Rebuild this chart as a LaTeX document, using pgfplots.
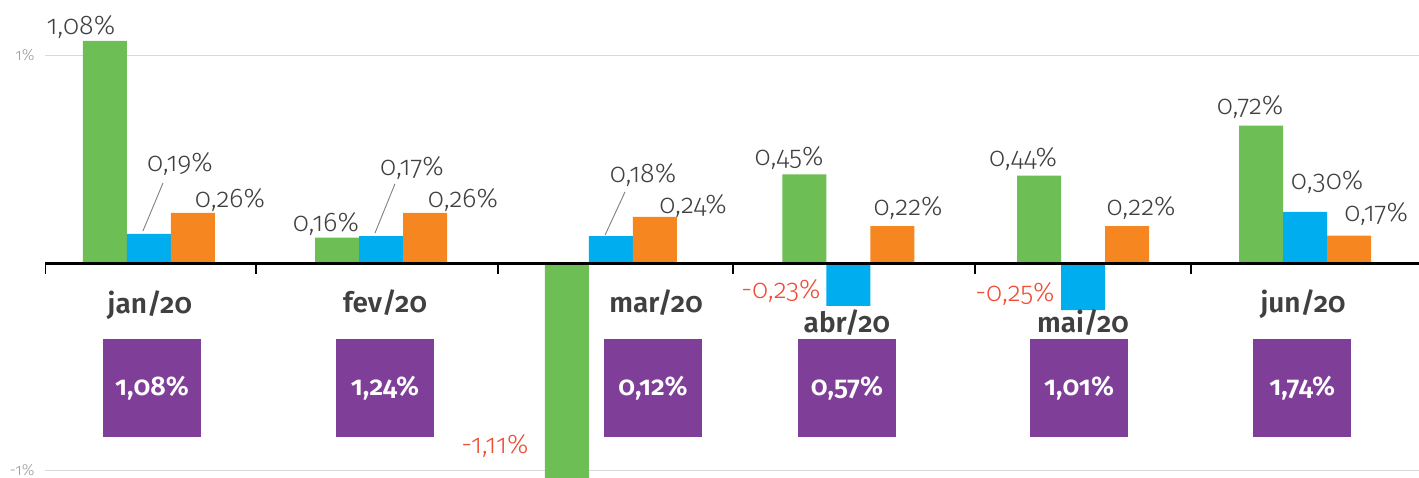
\documentclass[border=0pt]{standalone}
\usepackage{pgfplots}
\pgfplotsset{compat=1.18}
\usepackage{fontspec}
\setmainfont{Fira Sans}[Numbers=OldStyle]
\newfontfamily\lightfont{Fira Sans Light}[Numbers=OldStyle]
\newfontfamily\semifont{Fira Sans SemiBold}[Numbers=OldStyle]
\definecolor{cgreen}{HTML}{6DBE54}
\definecolor{cblue}{HTML}{00AEEF}
\definecolor{corange}{HTML}{F68620}
\definecolor{cpurple}{HTML}{7F3F98}
\definecolor{cred}{HTML}{F04E37}
\definecolor{ctext}{HTML}{404040}
\definecolor{tickgrey}{HTML}{999999}
\definecolor{gridgrey}{HTML}{D9D9D9}
\newcommand\vl{\lightfont\fontsize{27}{30}\selectfont}
\newcommand\cl{\semifont\fontsize{28}{32}\selectfont}
\newcommand\bl{\semifont\fontsize{27}{30}\selectfont}
\begin{document}
\begin{tikzpicture}
\begin{axis}[
  x=231.4pt, y=207.5pt,
  xmin=-0.449, xmax=5.488, ymin=-1.0313, ymax=1.2675,
  axis line style={draw=none},
  xtick=\empty,
  ytick={-1,1}, yticklabels={-1\%,1\%},
  ymajorgrids, grid style={color=gridgrey, line width=1.3pt},
  major tick length=0pt,
  yticklabel style={font=\lightfont\fontsize{16}{18}\selectfont, text=tickgrey, xshift=-7pt},
  clip=true,
]
% green series
\addplot[ybar, bar width=44pt, bar shift=-44pt, fill=cgreen, draw=none] coordinates {
  (0,1.070) (1.003,0.122) (1.996,-1.11) (3.022,0.427) (4.037,0.421) (4.996,0.662)};
% blue series
\addplot[ybar, bar width=44pt, bar shift=0pt, fill=cblue, draw=none] coordinates {
  (0,0.140) (1.003,0.130) (1.996,0.130) (3.022,-0.206) (4.037,-0.227) (4.996,0.247)};
% orange series
\addplot[ybar, bar width=44pt, bar shift=44pt, fill=corange, draw=none] coordinates {
  (0,0.242) (1.003,0.242) (1.996,0.223) (3.022,0.178) (4.037,0.178) (4.996,0.132)};
% zero line and group ticks
\addplot[black, line width=3pt, mark=none] coordinates {(-0.449,0) (5.488,0)};
\addplot[black, line width=2.5pt, ycomb, mark=none] coordinates {
  (-0.449,-0.055) (0.462,-0.055) (1.508,-0.055) (2.524,-0.055) (3.570,-0.055) (4.503,-0.055)};
% leader lines
\addplot[gray, line width=0.9pt, mark=none] coordinates {(-0.026,0.154) (0.061,0.386)};
\addplot[gray, line width=0.9pt, mark=none] coordinates {(0.977,0.145) (1.063,0.381)};
\addplot[gray, line width=0.9pt, mark=none] coordinates {(1.971,0.135) (2.057,0.342)};
% value labels
\begin{scope}[every node/.style={anchor=base, inner sep=0pt, font=\vl, text=ctext}]
\node at (axis cs:-0.294,1.099) {1,08\%};
\node at (axis cs:0.134,0.439) {0,19\%};
\node at (axis cs:0.350,0.270) {0,26\%};
\node at (axis cs:0.765,0.154) {0,16\%};
\node at (axis cs:1.137,0.424) {0,17\%};
\node at (axis cs:1.357,0.270) {0,26\%};
\node[text=cred] at (axis cs:1.495,-0.916) {-1,11\%};
\node at (axis cs:2.135,0.386) {0,18\%};
\node at (axis cs:2.351,0.241) {0,24\%};
\node at (axis cs:2.766,0.472) {0,45\%};
\node[text=cred] at (axis cs:2.731,-0.169) {-0,23\%};
\node at (axis cs:3.280,0.231) {0,22\%};
\node at (axis cs:3.777,0.467) {0,44\%};
\node[text=cred] at (axis cs:3.742,-0.183) {-0,25\%};
\node at (axis cs:4.287,0.227) {0,22\%};
\node at (axis cs:4.758,0.718) {0,72\%};
\node at (axis cs:5.091,0.352) {0,30\%};
\node at (axis cs:5.303,0.198) {0,17\%};
\end{scope}
% category labels
\begin{scope}[every node/.style={anchor=base, inner sep=0pt, font=\cl, text=ctext}]
\node at (axis cs:0.004,-0.241) {jan/20};
\node at (axis cs:1.020,-0.236) {fev/20};
\node at (axis cs:2.191,-0.236) {mar/20};
\node at (axis cs:3.016,-0.333) {abr/20};
\node at (axis cs:4.036,-0.333) {mai/20};
\node at (axis cs:4.987,-0.236) {jun/20};
\end{scope}
% cumulative boxes
\begin{scope}[every node/.style={anchor=center, inner sep=0pt, minimum width=98pt, minimum height=98pt, fill=cpurple, font=\bl, text=white}]
\node at (axis cs:0.013,-0.602) {1,08\%};
\node at (axis cs:1.020,-0.602) {1,24\%};
\node at (axis cs:2.178,-0.602) {0,12\%};
\node at (axis cs:3.016,-0.602) {0,57\%};
\node at (axis cs:4.019,-0.602) {1,01\%};
\node at (axis cs:4.983,-0.602) {1,74\%};
\end{scope}
\coordinate (sw) at (rel axis cs:0,0);
\coordinate (ne) at (rel axis cs:1,1);
\end{axis}
\pgfresetboundingbox
\path[use as bounding box] ([xshift=-45pt]sw) rectangle (ne);
\end{tikzpicture}
\end{document}
